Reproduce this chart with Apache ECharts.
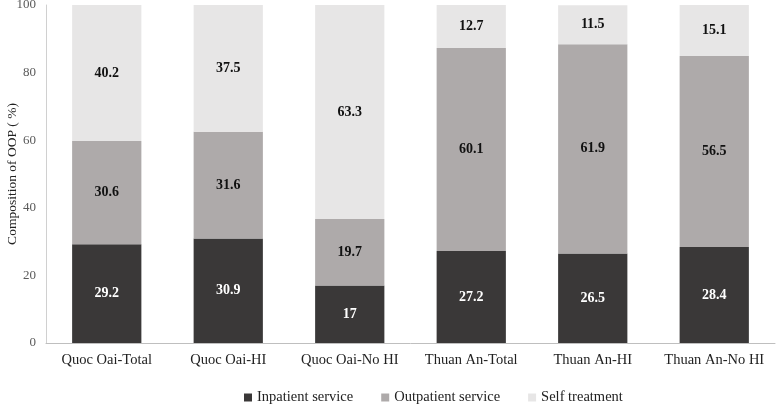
<!DOCTYPE html>
<html>
<head>
<meta charset="utf-8">
<script src="https://cdn.jsdelivr.net/npm/echarts@6/dist/echarts.min.js"></script>
<style>
  html, body { margin: 0; padding: 0; background: #fff; }
  #chart { width: 778px; height: 405px; }
</style>
</head>
<body>
<div id="chart"></div>
<script>
const categories = ['Quoc Oai-Total', 'Quoc Oai-HI', 'Quoc Oai-No HI', 'Thuan An-Total', 'Thuan An-HI', 'Thuan An-No HI'];
const inpatient = [29.2, 30.9, 17, 27.2, 26.5, 28.4];
const outpatient = [30.6, 31.6, 19.7, 60.1, 61.9, 56.5];
const selfTreatment = [40.2, 37.5, 63.3, 12.7, 11.5, 15.1];

const font = '"Liberation Serif", "Times New Roman", serif';

function barSeries(name, data, color, labelColor) {
  return {
    name: name,
    type: 'bar',
    stack: 'oop',
    data: data,
    barWidth: '57%',
    itemStyle: { color: color },
    label: {
      show: true,
      position: 'inside',
      color: labelColor,
      fontFamily: font,
      fontWeight: 'bold',
      fontSize: 14
    }
  };
}

const chart = echarts.init(document.getElementById('chart'));
chart.setOption({
  animation: false,
  textStyle: { fontFamily: font },
  legend: {
    bottom: -5,
    left: 239,
    itemWidth: 8,
    itemHeight: 8,
    itemGap: 28,
    icon: 'rect',
    textStyle: { fontFamily: font, fontSize: 14.5, color: '#222' },
    data: ['Inpatient service', 'Outpatient service', 'Self treatment']
  },
  grid: { left: 46, right: 3, top: 5, bottom: 62, containLabel: false, outerBoundsMode: 'none' },
  xAxis: {
    type: 'category',
    data: categories,
    axisLine: { lineStyle: { color: '#bfbfbf' } },
    axisTick: { show: false },
    axisLabel: { interval: 0, fontFamily: font, fontSize: 14.5, color: '#222', margin: 10 }
  },
  yAxis: {
    type: 'value',
    min: 0,
    max: 100,
    interval: 20,
    name: 'Composition of OOP ( %)',
    nameLocation: 'middle',
    nameGap: 27,
    nameMoveOverlap: false,
    nameTextStyle: { fontFamily: font, fontSize: 13.5, color: '#222' },
    axisLine: { show: true, lineStyle: { color: '#d0d0d0' } },
    axisTick: { show: false },
    splitLine: { show: false },
    axisLabel: { fontFamily: font, fontSize: 13, color: '#595959', margin: 10 }
  },
  series: [
    barSeries('Inpatient service', inpatient, '#3a3838', '#ffffff'),
    barSeries('Outpatient service', outpatient, '#aeaaaa', '#111'),
    barSeries('Self treatment', selfTreatment, '#e7e6e6', '#111')
  ]
});
</script>
</body>
</html>
